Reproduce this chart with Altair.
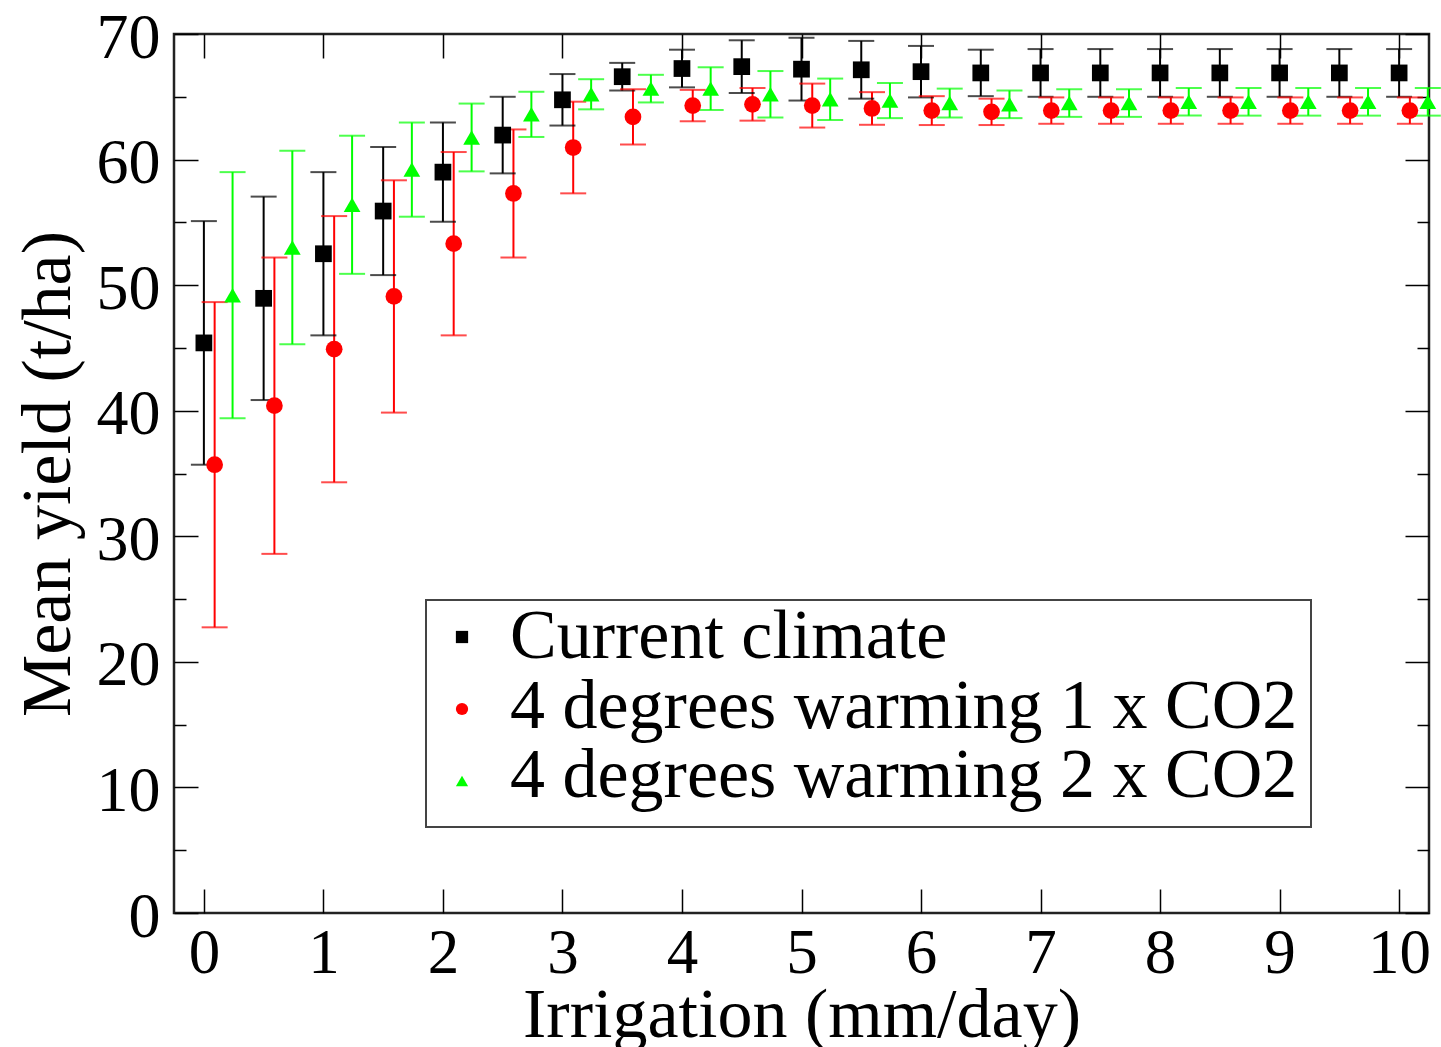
import altair as alt
import pandas as pd

FONT = "Liberation Serif"

# ---------------- data ----------------
irrigation = [0, 0.5, 1, 1.5, 2, 2.5, 3, 3.5, 4, 4.5, 5, 5.5, 6, 6.5, 7, 7.5, 8, 8.5, 9, 9.5, 10]

series_names = ["Current climate", "4 degrees warming 1 x CO2", "4 degrees warming 2 x CO2"]
series_offsets = [0.0, 0.09, 0.24]
series_colors = ["#000000", "#ff0000", "#00ff00"]
series_shapes = ["square", "circle", "triangle-up"]

current_mean = [45.4, 48.95, 52.5, 55.9, 59.0, 61.95, 64.76, 66.6, 67.25, 67.4, 67.2,
                67.15, 67.0, 66.9, 66.9, 66.9, 66.9, 66.9, 66.9, 66.9, 66.9]
current_err = [9.7, 8.1, 6.5, 5.1, 3.95, 3.05, 2.05, 1.1, 1.5, 2.1, 2.5,
               2.3, 2.05, 1.85, 1.9, 1.9, 1.9, 1.9, 1.9, 1.9, 1.9]

warm1_mean = [35.7, 40.4, 44.9, 49.1, 53.3, 57.3, 60.96, 63.4, 64.3, 64.4, 64.3,
              64.07, 63.9, 63.8, 63.9, 63.9, 63.9, 63.9, 63.9, 63.9, 63.9]
warm1_err = [12.95, 11.8, 10.6, 9.25, 7.3, 5.1, 3.65, 2.2, 1.25, 1.3, 1.75,
             1.3, 1.15, 1.05, 1.05, 1.05, 1.05, 1.05, 1.05, 1.05, 1.05]

warm2_mean = [49.2, 53.0, 56.4, 59.2, 61.76, 63.6, 65.2, 65.65, 65.65, 65.2, 64.8,
              64.7, 64.5, 64.4, 64.5, 64.5, 64.6, 64.6, 64.6, 64.6, 64.6]
warm2_err = [9.8, 7.7, 5.5, 3.75, 2.7, 1.8, 1.2, 1.1, 1.7, 1.85, 1.65,
             1.4, 1.15, 1.1, 1.1, 1.1, 1.1, 1.1, 1.1, 1.1, 1.1]

x_ticks = [0, 1, 2, 3, 4, 5, 6, 7, 8, 9, 10]
y_major = [0, 10, 20, 30, 40, 50, 60, 70]
y_minor = [5, 15, 25, 35, 45, 55, 65]

# ---------------- table ----------------
means = [current_mean, warm1_mean, warm2_mean]
errs = [current_err, warm1_err, warm2_err]
rows = []
for name, off, m, e in zip(series_names, series_offsets, means, errs):
    for xi, mi, ei in zip(irrigation, m, e):
        rows.append({"series": name, "xpos": xi + off, "mean": mi, "err": ei})
df = pd.DataFrame(rows)
legend_df = pd.DataFrame({"series": series_names})
box_df = pd.DataFrame({"box": [1]})

W, H = 1255, 879

x_scale = alt.Scale(domain=[-0.25, 10.25], nice=False, zero=False)
y_scale = alt.Scale(domain=[0, 70], nice=False, zero=False)
color_scale = alt.Scale(domain=series_names, range=series_colors)
shape_scale = alt.Scale(domain=series_names, range=series_shapes)

def tick_axis(orient, values, size):
    return alt.Axis(orient=orient, offset=-(H if orient in ("top", "bottom") else W),
                    values=values, labels=False, domain=False, grid=False,
                    ticks=True, tickSize=size, tickWidth=1.5, tickColor="black",
                    title=None)

ax_x_labels = alt.Axis(orient="bottom", values=x_ticks, format="d",
                       labelFont=FONT, labelFontSize=63, labelColor="black",
                       labelPadding=59, labelBaseline="alphabetic",
                       labelFlush=False, labelOverlap=False,
                       ticks=False, domain=False, grid=False,
                       title="Irrigation (mm/day)", titleFont=FONT, titleFontSize=70,
                       titleFontWeight="normal", titleColor="black",
                       titleY=123, titleBaseline="alphabetic")

ax_y_labels = alt.Axis(orient="left", values=y_major, format="d",
                       labelFont=FONT, labelFontSize=64, labelColor="black",
                       labelPadding=14, labelBaseline="alphabetic", labelOffset=23,
                       labelFlush=False, labelOverlap=False,
                       ticks=False, domain=False, grid=False,
                       title="Mean yield (t/ha)", titleFont=FONT, titleFontSize=70,
                       titleFontWeight="normal", titleColor="black",
                       titleX=-105, titleBaseline="alphabetic", titleAngle=270)

base = alt.Chart(df).transform_calculate(
    lo="datum.mean - datum.err", hi="datum.mean + datum.err"
)

color_enc = alt.Color("series:N", scale=color_scale, legend=None)
shape_enc = alt.Shape("series:N", scale=shape_scale, legend=None)

rules_lo = base.mark_rule(strokeWidth=2).encode(
    x=alt.X("xpos:Q", scale=x_scale, axis=ax_x_labels),
    y=alt.Y("lo:Q", scale=y_scale, axis=ax_y_labels),
    y2="mean:Q",
    color=color_enc,
)
rules_hi = base.mark_rule(strokeWidth=2).encode(
    x=alt.X("xpos:Q", scale=x_scale, axis=None),
    y=alt.Y("mean:Q", scale=y_scale, axis=tick_axis("left", y_minor, 12)),
    y2="hi:Q",
    color=color_enc,
)
caps_lo = base.mark_tick(orient="horizontal", size=26, thickness=2).encode(
    x=alt.X("xpos:Q", scale=x_scale, axis=tick_axis("top", x_ticks, 24)),
    y=alt.Y("lo:Q", scale=y_scale, axis=tick_axis("right", y_major, 24)),
    color=color_enc,
)
caps_hi = base.mark_tick(orient="horizontal", size=26, thickness=2).encode(
    x=alt.X("xpos:Q", scale=x_scale, axis=tick_axis("bottom", x_ticks, 24)),
    y=alt.Y("hi:Q", scale=y_scale, axis=tick_axis("left", y_major, 24)),
    color=color_enc,
)
points = base.mark_point(filled=True, size=280, opacity=1).encode(
    x=alt.X("xpos:Q", scale=x_scale, axis=None),
    y=alt.Y("mean:Q", scale=y_scale, axis=tick_axis("right", y_minor, 12)),
    color=color_enc,
    shape=shape_enc,
)

# ---------------- legend (drawn as marks) ----------------
leg_sym_scale = alt.Scale(domain=series_names, range=[603, 747], padding=0)
leg_txt_scale = alt.Scale(domain=series_names, range=[624, 763], padding=0)

leg_box = alt.Chart(box_df).mark_rect(fill="white", stroke="#444", strokeWidth=2).encode(
    x=alt.value(252), x2=alt.value(1137), y=alt.value(566), y2=alt.value(793)
)
leg_sym = alt.Chart(legend_df).mark_point(filled=True, size=150, opacity=1).encode(
    x=alt.value(288),
    y=alt.Y("series:N", scale=leg_sym_scale, axis=None, sort=series_names),
    color=color_enc,
    shape=shape_enc,
)
leg_txt = alt.Chart(legend_df).mark_text(
    font=FONT, fontSize=70, align="left", baseline="alphabetic", color="black"
).encode(
    x=alt.value(336),
    y=alt.Y("series:N", scale=leg_txt_scale, axis=None, sort=series_names),
    text="series:N",
)

chart = alt.layer(rules_lo, rules_hi, caps_lo, caps_hi, points,
                  leg_box, leg_sym, leg_txt).resolve_axis(
    x="independent", y="independent"
).resolve_scale(y="independent").properties(
    width=W, height=H,
    autosize=alt.AutoSizeParams(type="none"),
    padding={"left": 174, "top": 34, "right": 12, "bottom": 134},
    background="white",
).configure_view(stroke="#222", strokeWidth=2.5)

chart.save("out.html", embed_options={"renderer": "svg", "actions": False})
